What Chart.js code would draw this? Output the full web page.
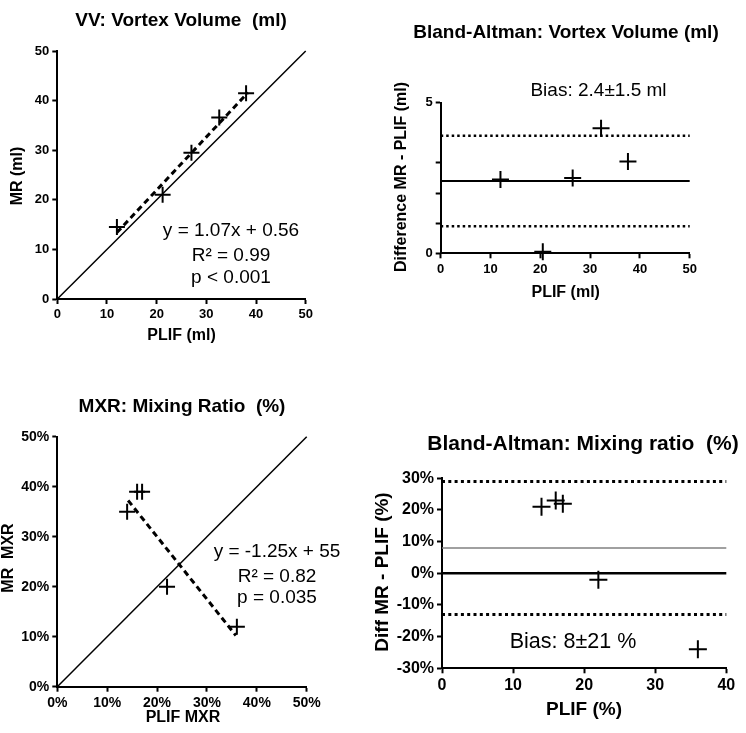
<!DOCTYPE html>
<html>
<head>
<meta charset="utf-8">
<script src="https://cdn.jsdelivr.net/npm/chart.js@4.4.1/dist/chart.umd.min.js"></script>
<style>
  body { margin: 0; background: #fff; }
  #wrap { position: relative; width: 746px; height: 733px; }
  canvas { position: absolute; }
</style>
</head>
<body>
<div id="wrap">
  <canvas id="vvScatter" width="373" height="360" style="left:0;top:0"></canvas>
  <canvas id="vvBland" width="373" height="360" style="left:373px;top:0"></canvas>
  <canvas id="mxrScatter" width="373" height="373" style="left:0;top:360px"></canvas>
  <canvas id="mxrBland" width="373" height="373" style="left:373px;top:360px"></canvas>
</div>
<script>
const FONT = '"Liberation Sans", Arial, sans-serif';

// VV: Vortex Volume (ml)
const vvPlif = [12, 21.2, 27, 32.6, 38];
const vvMr = [14.5, 21, 29.5, 36.6, 41.5];
const vvFit = { slope: 1.07, intercept: 0.56, from: 12, to: 38.4 };

// Bland-Altman: Vortex Volume
const baVvPlif = [12, 20.5, 26.5, 32.2, 37.6];
const baVvDiff = [2.45, 0.05, 2.5, 4.15, 3.05];
const baVvBias = 2.4;
const baVvSd = 1.5;
const baVvYTicks = [0, 1, 2, 3, 5];

// MXR: Mixing Ratio (%)
const mxrPlif = [14, 16, 17, 22, 36];
const mxrMr = [35, 39, 39, 20, 12];
const mxrFit = { slope: -1.25, intercept: 55, from: 14.2, to: 35.8 };

// Bland-Altman: Mixing ratio
const baMxrPlif = [14, 16, 17, 22, 36];
const baMxrDiff = [21, 23, 22, -2, -24];
const baMxrBias = 8;
const baMxrSd = 21;

// textos desenhados por cima do gráfico
const panelText = {
  id: 'panelText',
  afterDraw(chart, args, opts) {
    const ctx = chart.ctx;
    ctx.save();
    ctx.fillStyle = '#000';
    ctx.textAlign = 'center';
    ctx.textBaseline = 'middle';
    (opts.items || []).forEach(t => {
      ctx.font = (t.bold ? 'bold ' : '') + t.size + 'px ' + FONT;
      if (t.rotate) {
        ctx.save();
        ctx.translate(t.x, t.y);
        ctx.rotate(-Math.PI / 2);
        ctx.fillText(t.text, 0, 0);
        ctx.restore();
      } else {
        ctx.fillText(t.text, t.x, t.y);
      }
    });
    ctx.restore();
  }
};

function pts(xs, ys) {
  return xs.map((x, i) => ({ x: x, y: ys[i] }));
}

function pointsSet(xs, ys, r) {
  return {
    data: pts(xs, ys),
    showLine: false,
    pointStyle: 'cross',
    pointRadius: r,
    pointBorderWidth: 2,
    pointBorderColor: '#000',
    clip: false
  };
}

function lineSet(xs, ys, color, width, dash) {
  return {
    data: pts(xs, ys),
    showLine: true,
    pointRadius: 0,
    borderColor: color,
    borderWidth: width,
    borderDash: dash || [],
    clip: false
  };
}

function axisOpts(min, max, step, size, fmt) {
  return {
    type: 'linear',
    min: min,
    max: max,
    ticks: {
      stepSize: step,
      color: '#000',
      padding: 3,
      font: { family: FONT, size: size, weight: 'bold' },
      callback: fmt
    },
    grid: { drawOnChartArea: false, drawTicks: true, tickLength: 5, tickWidth: 2, tickColor: '#000' },
    border: { display: true, color: '#000', width: 2 }
  };
}

// monta um painel com a área do gráfico em posição fixa
function makePanel(id, area, datasets, xAxis, yAxis, items) {
  const canvas = document.getElementById(id);
  const bottomH = canvas.height - area.b;
  xAxis.afterFit = s => { s.height = bottomH; };
  yAxis.afterFit = s => { s.width = area.l; };
  new Chart(canvas, {
    type: 'scatter',
    data: { datasets: datasets },
    options: {
      responsive: false,
      animation: false,
      devicePixelRatio: 1,
      layout: {
        padding: { left: 0, right: canvas.width - area.r, top: area.t, bottom: 0 }
      },
      plugins: {
        legend: { display: false },
        tooltip: { enabled: false },
        panelText: { items: items }
      },
      scales: { x: xAxis, y: yAxis }
    },
    plugins: [panelText]
  });
}

const pct = v => v + '%';
const plain = v => v;

// Painel 1: VV
makePanel('vvScatter', { l: 57.3, r: 305.7, t: 51, b: 299 }, [
  pointsSet(vvPlif, vvMr, 8),
  lineSet([vvFit.from, vvFit.to], [vvFit.from, vvFit.to].map(x => vvFit.slope * x + vvFit.intercept), '#000', 3, [6, 4]),
  lineSet([0, 50], [0, 50], '#000', 1.5)
],
  axisOpts(0, 50, 10, 13, plain),
  axisOpts(0, 50, 10, 13, plain),
  [
    { text: 'VV: Vortex Volume  (ml)', x: 181, y: 21, size: 19, bold: true },
    { text: 'PLIF (ml)', x: 181.5, y: 336, size: 16, bold: true },
    { text: 'MR (ml)', x: 18, y: 176, size: 16, bold: true, rotate: true },
    { text: 'y = 1.07x + 0.56', x: 231, y: 231, size: 19 },
    { text: 'R\u00b2 = 0.99', x: 231, y: 256, size: 19 },
    { text: 'p < 0.001', x: 231, y: 278, size: 19 }
  ]);

// Painel 2: Bland-Altman VV
const vvBlandY = axisOpts(0, 5, 1, 13, v => (v === 0 || v === 5) ? v : '');
vvBlandY.afterBuildTicks = s => { s.ticks = baVvYTicks.map(v => ({ value: v })); };
makePanel('vvBland', { l: 67.7, r: 316.7, t: 102.7, b: 253.3 }, [
  pointsSet(baVvPlif, baVvDiff, 8.5),
  lineSet([0, 50], [baVvBias, baVvBias], '#000', 2),
  lineSet([0, 50], [baVvBias + baVvSd, baVvBias + baVvSd], '#000', 2.5, [2.5, 3]),
  lineSet([0, 50], [baVvBias - baVvSd, baVvBias - baVvSd], '#000', 2.5, [2.5, 3])
],
  axisOpts(0, 50, 10, 13, plain),
  vvBlandY,
  [
    { text: 'Bland-Altman: Vortex Volume (ml)', x: 193, y: 33, size: 19, bold: true },
    { text: 'PLIF (ml)', x: 192.7, y: 293, size: 16, bold: true },
    { text: 'Difference MR - PLIF (ml)', x: 29, y: 177, size: 16, bold: true, rotate: true },
    { text: 'Bias: 2.4\u00b11.5 ml', x: 225.5, y: 91, size: 19 }
  ]);

// Painel 3: MXR
makePanel('mxrScatter', { l: 57.3, r: 306.7, t: 76.7, b: 326.7 }, [
  pointsSet(mxrPlif, mxrMr, 8),
  lineSet([mxrFit.from, mxrFit.to], [mxrFit.from, mxrFit.to].map(x => mxrFit.slope * x + mxrFit.intercept), '#000', 3, [6, 4]),
  lineSet([0, 50], [0, 50], '#000', 1.5)
],
  axisOpts(0, 50, 10, 14, pct),
  axisOpts(0, 50, 10, 14, pct),
  [
    { text: 'MXR: Mixing Ratio  (%)', x: 182, y: 47, size: 19, bold: true },
    { text: 'PLIF MXR', x: 183, y: 358, size: 16, bold: true },
    { text: 'MR  MXR', x: 9, y: 198, size: 16, bold: true, rotate: true },
    { text: 'y = -1.25x + 55', x: 277, y: 192, size: 19 },
    { text: 'R\u00b2 = 0.82', x: 277, y: 217, size: 19 },
    { text: 'p = 0.035', x: 277, y: 238, size: 19 }
  ]);

// Painel 4: Bland-Altman MXR
makePanel('mxrBland', { l: 69, r: 353.3, t: 118.3, b: 308.3 }, [
  pointsSet(baMxrPlif, baMxrDiff, 9),
  lineSet([0, 40], [0, 0], '#000', 2.5),
  lineSet([0, 40], [baMxrBias, baMxrBias], '#808080', 1.5),
  lineSet([0, 40], [baMxrBias + baMxrSd, baMxrBias + baMxrSd], '#000', 3, [3, 3.3]),
  lineSet([0, 40], [baMxrBias - baMxrSd, baMxrBias - baMxrSd], '#000', 3, [3, 3.3])
],
  axisOpts(0, 40, 10, 16, plain),
  axisOpts(-30, 30, 10, 16, pct),
  [
    { text: 'Bland-Altman: Mixing ratio  (%)', x: 210, y: 84, size: 21, bold: true },
    { text: 'PLIF (%)', x: 211, y: 350, size: 19, bold: true },
    { text: 'Diff MR - PLIF (%)', x: 10, y: 212, size: 19, bold: true, rotate: true },
    { text: 'Bias: 8\u00b121 %', x: 200, y: 282, size: 21.5 }
  ]);
</script>
</body>
</html>
